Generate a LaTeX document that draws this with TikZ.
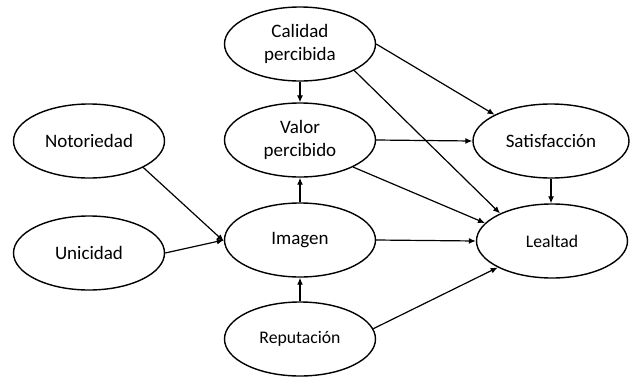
\documentclass[tikz,border=0pt]{standalone}
\usepackage{fontspec}
\setmainfont{Carlito}
\usetikzlibrary{shapes.geometric,arrows.meta}
\begin{document}
\begin{tikzpicture}[x=1pt,y=-1pt,
  construct/.style={ellipse,draw,line width=1.4pt,minimum width=151pt,
    minimum height=74pt,inner sep=0pt,align=center,
    font=\fontsize{19}{23}\selectfont},
  smalltext/.style={font=\fontsize{17.7}{21}\selectfont},
  link/.style={line width=1.2pt,-{Latex[length=7pt,width=6pt]}}]
\useasboundingbox (0,0) rectangle (630,376);

% constructs
\node[construct] (cal) at (300,44)  {Calidad\\percibida};
\node[construct] (val) at (300,140) {Valor\\percibido};
\node[construct] (not) at (89,141)  {Notoriedad};
\node[construct] (uni) at (89,253)  {Unicidad};
\node[construct] (ima) at (300,240) {Imagen};
\node[construct,smalltext] (rep) at (300,339) {Reputación};
\node[construct,minimum width=156pt] (sat) at (551,141) {Satisfacción};
\node[construct,smalltext] (lea) at (552,241) {Lealtad};

% paths
\draw[link] (cal) -- (val);
\draw[link] (cal.east) -- (sat.155);
\draw[link] (cal.-26) -- (lea.152);
\draw[link] (val.east) -- (sat.west);
\draw[link] (val.-27) -- (lea.165);
\draw[link] (ima) -- (val);
\draw[link] (ima.east) -- (lea.west);
\draw[link] (rep) -- (ima);
\draw[link] (rep.8) -- (lea.206);
\draw[link] (not.-26) -- (ima.181);
\draw[link] (uni.east) -- (ima.west);
\draw[link] (sat.south) -- (sat.south |- lea.north);
\end{tikzpicture}
\end{document}
